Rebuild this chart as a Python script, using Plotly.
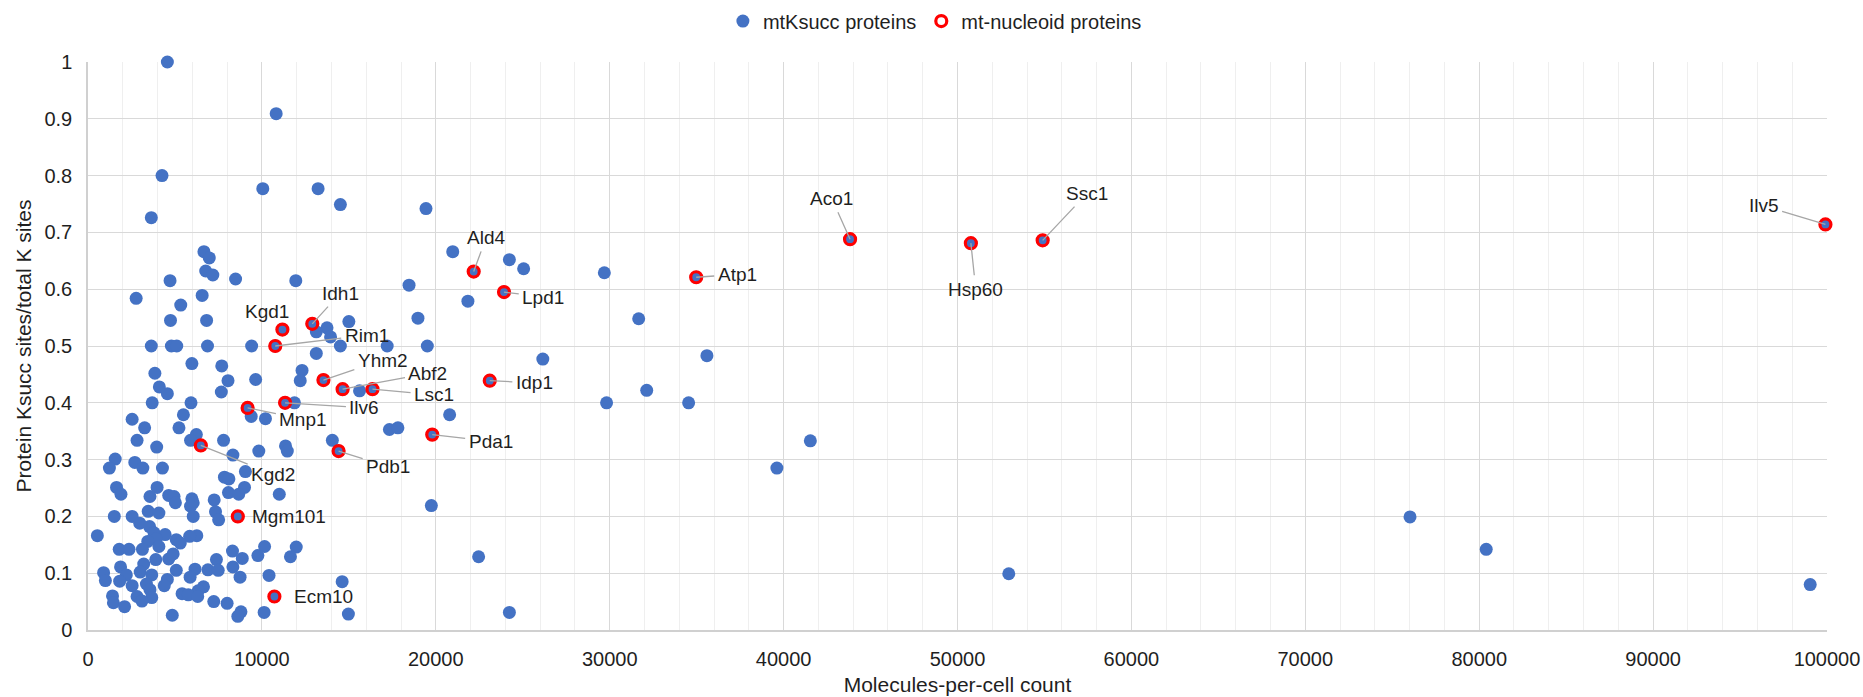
import plotly.graph_objects as go

# ---------------- data ----------------
blue_x = [4564, 10821, 4256, 10051, 13231, 14513, 19436, 3641, 20974, 6667, 6974, 24231, 25051, 29692,
          6769, 7179, 4718, 8487, 11949, 18462, 2769, 6564, 21846, 5333, 4744, 6821, 18974, 31667, 15000,
          13744, 13128, 13949, 3641, 4795, 5103, 6872, 9410, 14513, 17205, 19513, 13128, 26154, 35590,
          5974, 7692, 12308, 3846, 9641, 8051, 12205, 4103, 4564, 7667, 15615, 32128, 29820, 34538, 3692,
          5923, 11872, 5487, 20795, 9385, 10205, 2538, 3256, 5231, 17333, 17821, 6231, 2821, 7795, 5897,
          14051, 3949, 11359, 11462, 9821, 8333, 1564, 2692, 1231, 3154, 4282, 9051, 7846, 8103, 1641, 3974,
          9000, 1897, 3564, 4641, 4949, 5026, 5974, 6051, 8077, 8667, 11000, 7256, 5897, 7333, 7513, 3462,
          4077, 1513, 2538, 6051, 19744, 2974, 3538, 538, 3795, 4436, 6256, 5846, 3923, 5077, 3436, 5308,
          4077, 1795, 2359, 3128, 10154, 11974, 8308, 4641, 4897, 3897, 8872, 9769, 11641, 22462, 7385,
          3205, 6154, 1872, 897, 6897, 7487, 8333, 3000, 5077, 3667, 2205, 5872, 10410, 8744, 14615, 1000,
          1821, 4564, 3359, 2538, 4385, 3564, 6641, 6333, 5410, 5769, 2821, 3667, 1410, 6308, 3103, 1462,
          7231, 8000, 2103, 10128, 8795, 8615, 4846, 14974, 24231, 41538, 39615, 52949, 76022, 80404, 99034]
blue_y = [1.0, 0.909, 0.8, 0.777, 0.777, 0.749, 0.742, 0.726, 0.666, 0.666, 0.655, 0.652, 0.636, 0.629,
          0.632, 0.625, 0.615, 0.618, 0.615, 0.607, 0.584, 0.589, 0.579, 0.572, 0.545, 0.545, 0.549, 0.548, 0.543,
          0.532, 0.525, 0.516, 0.5, 0.5, 0.5, 0.5, 0.5, 0.5, 0.5, 0.5, 0.487, 0.477, 0.483,
          0.469, 0.465, 0.457, 0.452, 0.441, 0.439, 0.439, 0.428, 0.416, 0.419, 0.421, 0.422, 0.4, 0.4, 0.4,
          0.4, 0.4, 0.379, 0.379, 0.376, 0.372, 0.371, 0.356, 0.356, 0.353, 0.356, 0.344, 0.334, 0.334, 0.334,
          0.334, 0.322, 0.324, 0.315, 0.315, 0.308, 0.301, 0.295, 0.285, 0.285, 0.285, 0.279, 0.269, 0.266, 0.251, 0.251,
          0.251, 0.239, 0.235, 0.237, 0.235, 0.224, 0.231, 0.224, 0.242, 0.239, 0.239, 0.229, 0.218, 0.208, 0.194, 0.209,
          0.206, 0.2, 0.2, 0.2, 0.219, 0.188, 0.182, 0.166, 0.171, 0.168, 0.166, 0.165, 0.16, 0.159, 0.156, 0.153,
          0.147, 0.142, 0.142, 0.142, 0.147, 0.146, 0.139, 0.125, 0.134, 0.124, 0.126, 0.131, 0.129, 0.129, 0.124,
          0.116, 0.107, 0.111, 0.101, 0.106, 0.105, 0.111, 0.102, 0.105, 0.097, 0.097, 0.093, 0.096, 0.093, 0.085, 0.087,
          0.086, 0.089, 0.081, 0.078, 0.078, 0.071, 0.076, 0.069, 0.064, 0.062, 0.059, 0.057, 0.06, 0.059, 0.051, 0.048,
          0.05, 0.047, 0.041, 0.031, 0.032, 0.024, 0.026, 0.028, 0.031, 0.333, 0.285, 0.099, 0.199, 0.142, 0.08]

red_names = ["Ald4", "Lpd1", "Idh1", "Kgd1", "Rim1", "Atp1", "Aco1", "Hsp60", "Ssc1", "Ilv5", "Yhm2",
             "Abf2", "Lsc1", "Idp1", "Ilv6", "Mnp1", "Pda1", "Pdb1", "Kgd2", "Mgm101", "Ecm10"]
red_x = [22179, 23923, 12897, 11179, 10769, 34974, 43821, 50769, 54897, 99910, 13538,
         14641, 16359, 23103, 11333, 9179, 19795, 14410, 6487, 8615, 10718]
red_y = [0.631, 0.595, 0.539, 0.529, 0.5, 0.621, 0.688, 0.681, 0.686, 0.714, 0.44,
         0.424, 0.424, 0.439, 0.4, 0.391, 0.344, 0.315, 0.325, 0.2, 0.059]

# label placement (text centre, data units) and whether a leader line is drawn
label_pos = {
    "Ald4": (22897, 0.691, True), "Lpd1": (26179, 0.586, True), "Idh1": (14513, 0.593, True),
    "Kgd1": (10282, 0.561, False), "Rim1": (16026, 0.519, True), "Atp1": (37333, 0.626, True),
    "Aco1": (42769, 0.760, True), "Hsp60": (51051, 0.600, True), "Ssc1": (57462, 0.769, True),
    "Ilv5": (96360, 0.747, True), "Yhm2": (16949, 0.475, True), "Abf2": (19550, 0.452, True),
    "Lsc1": (19900, 0.414, True), "Idp1": (25667, 0.435, True), "Ilv6": (15897, 0.391, True),
    "Mnp1": (12385, 0.371, True), "Pda1": (23154, 0.332, True), "Pdb1": (17256, 0.288, True),
    "Kgd2": (10641, 0.274, True), "Mgm101": (11564, 0.199, False), "Ecm10": (13538, 0.059, False),
}

x_ticks = [0, 10000, 20000, 30000, 40000, 50000, 60000, 70000, 80000, 90000, 100000]
y_ticks = [0, 0.1, 0.2, 0.3, 0.4, 0.5, 0.6, 0.7, 0.8, 0.9, 1]
y_tick_text = ["0", "0.1", "0.2", "0.3", "0.4", "0.5", "0.6", "0.7", "0.8", "0.9", "1"]

# ---------------- figure ----------------
FONT = "Liberation Sans, Arial, sans-serif"
BLUE = "#4472C4"
TXT = "#1f1f1f"

fig = go.Figure()
fig.add_trace(go.Scatter(
    x=blue_x + red_x, y=blue_y + red_y, mode="markers", name="mtKsucc proteins",
    marker=dict(color=BLUE, size=13, line=dict(width=0)), cliponaxis=False,
))
fig.add_trace(go.Scatter(
    x=red_x, y=red_y, mode="markers", name="mt-nucleoid proteins",
    marker=dict(symbol="circle-open", color="#FF0000", size=11, line=dict(width=3.2, color="#FF0000")),
    cliponaxis=False,
))

annotations = []
for n, px, py in zip(red_names, red_x, red_y):
    lx, ly, leader = label_pos[n]
    if leader:
        annotations.append(dict(
            x=px, y=py, xref="x", yref="y", ax=lx, ay=ly, axref="x", ayref="y",
            text=n, showarrow=True, arrowhead=0, arrowwidth=1.3, arrowcolor="#a6a6a6",
            standoff=0, startstandoff=2, font=dict(family=FONT, size=19, color=TXT),
        ))
    else:
        annotations.append(dict(
            x=lx, y=ly, xref="x", yref="y", text=n, showarrow=False,
            font=dict(family=FONT, size=19, color=TXT),
        ))

fig.update_layout(
    width=1863, height=697,
    margin=dict(l=88, r=36, t=62, b=67, autoexpand=False),
    paper_bgcolor="white", plot_bgcolor="white",
    font=dict(family=FONT, size=20, color=TXT),
    showlegend=True,
    legend=dict(orientation="h", x=0.487, xanchor="center", y=1.072, yanchor="middle",
                font=dict(family=FONT, size=20, color=TXT), itemwidth=30,
                tracegroupgap=0, bgcolor="rgba(0,0,0,0)"),
    annotations=annotations,
    xaxis=dict(
        range=[0, 100000], tickvals=x_ticks, ticktext=[str(v) for v in x_ticks],
        showgrid=True, gridcolor="#d9d9d9", gridwidth=1.3,
        minor=dict(dtick=2000, showgrid=True, gridcolor="#efefef", gridwidth=1),
        showline=True, linecolor="#d0d0d0", linewidth=1.5, zeroline=False, ticks="",
        ticklabelstandoff=10, automargin=False,
        title=dict(text="Molecules-per-cell count", font=dict(family=FONT, size=21, color=TXT), standoff=9),
        tickfont=dict(family=FONT, size=20, color=TXT),
    ),
    yaxis=dict(
        range=[0, 1], tickvals=y_ticks, ticktext=y_tick_text,
        showgrid=True, gridcolor="#d9d9d9", gridwidth=1.3,
        showline=True, linecolor="#d0d0d0", linewidth=1.5, zeroline=False, ticks="",
        ticklabelstandoff=10, automargin=False,
        title=dict(text="Protein Ksucc sites/total K sites", font=dict(family=FONT, size=21, color=TXT), standoff=7),
        tickfont=dict(family=FONT, size=20, color=TXT),
    ),
)

fig.write_html(
    "out.html",
    config={"displayModeBar": False},
    post_script="document.body.style.margin='0';document.body.style.padding='0';"
                "document.documentElement.style.overflow='hidden';",
)
